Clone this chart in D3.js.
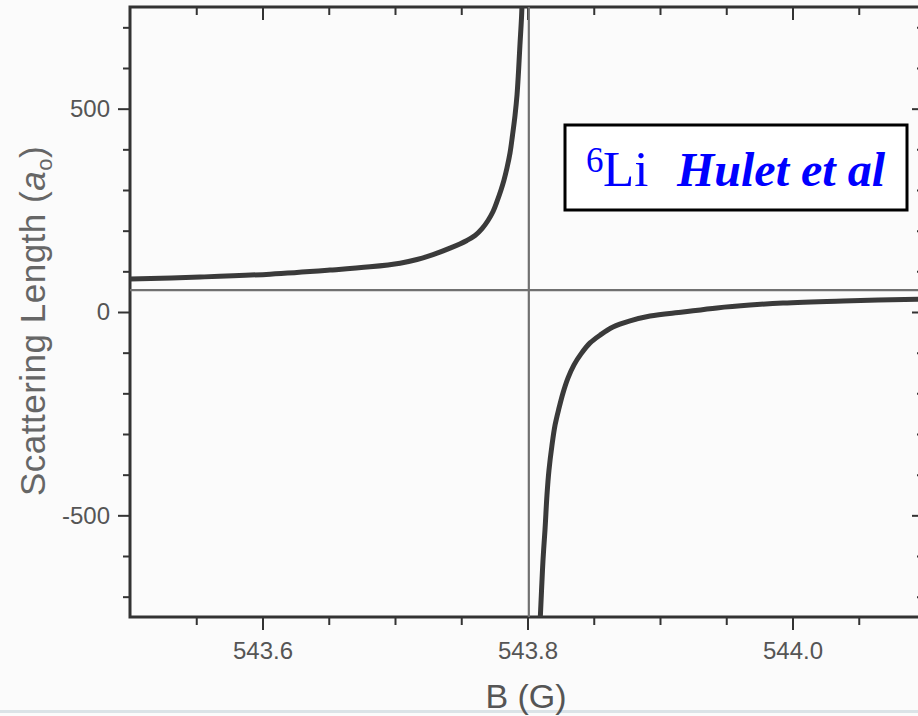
<!DOCTYPE html>
<html>
<head>
<meta charset="utf-8">
<script src="https://cdn.jsdelivr.net/npm/d3@7/dist/d3.min.js"></script>
<style>
  html, body { margin: 0; padding: 0; background: #fbfbfb; }
  svg { display: block; }
</style>
</head>
<body>
<svg id="chart" width="918" height="716"></svg>
<script>
// ---- data ----
const leftBranchB = [543.5000, 543.5528, 543.6057, 543.6509, 543.6811, 543.7038, 543.7166, 543.7287, 543.7415, 543.7543, 543.7604, 543.7657, 543.7702, 543.7740, 543.7770, 543.7800, 543.7823, 543.7845, 543.7868, 543.7887, 543.7906, 543.7921, 543.7932, 543.7943, 543.7955, 543.7962];
const leftBranchA = [81, 86, 93, 103, 111, 120, 129, 141, 157, 176, 188, 205, 225, 247, 272, 300, 325, 354, 391, 435, 484, 534, 590, 657, 725, 792];
const rightBranchB = [543.8094, 543.8106, 543.8117, 543.8132, 543.8147, 543.8162, 543.8185, 543.8208, 543.8238, 543.8268, 543.8306, 543.8351, 543.8404, 543.8472, 543.8547, 543.8645, 543.8774, 543.8925, 543.9174, 543.9430, 543.9679, 543.9928, 544.0381, 544.1000];
const rightBranchA = [-770, -684, -610, -536, -450, -389, -327, -278, -236, -199, -162, -130, -103, -76, -57, -37, -22, -10, 0, 10, 17, 22, 27, 32];
const backgroundA = 54;        // horizontal reference line
const resonanceB = 543.801;    // vertical reference line
const xDomain = [543.5, 544.1];
const yDomain = [-750, 750];
const xMajorTicks = [543.6, 543.8, 544.0];
const xMinorTicks = [543.55, 543.65, 543.7, 543.75, 543.85, 543.9, 543.95, 544.05];
const yMajorTicks = [-500, 0, 500];
const yMinorTicks = [-700, -600, -400, -300, -200, -100, 100, 200, 300, 400, 600, 700];
const xTitle = "B (G)";
const legendIsotope = "6";
const legendElement = "Li";
const legendAuthors = "Hulet et al";

(function () {
// ---- layout ----
const svg = d3.select("#chart");
const pL = 130, pR = 925, pT = 7, pB = 617;
const x = d3.scaleLinear().domain(xDomain).range([pL, pR]);
const y = d3.scaleLinear().domain(yDomain).range([pB, pT]);

svg.append("rect").attr("x", 0).attr("y", 0).attr("width", 918).attr("height", 716).attr("fill", "#fbfbfb");
svg.append("rect").attr("x", 0).attr("y", 710).attr("width", 918).attr("height", 3).attr("fill", "#dbe3e7");

svg.append("clipPath").attr("id", "plotclip")
  .append("rect").attr("x", pL).attr("y", pT).attr("width", pR - pL).attr("height", pB - pT);

const tickFont = "'Liberation Sans', Arial, sans-serif";
const axisColor = "#333";
const textColor = "#555";

function styleAxis(g) {
  g.selectAll(".domain").remove();
  g.selectAll("line").attr("stroke", axisColor).attr("stroke-width", 2);
  g.selectAll("text").attr("fill", textColor).style("font-family", tickFont).style("font-size", "24px");
}

// bottom axis
svg.append("g").attr("transform", `translate(0,${pB})`)
  .call(d3.axisBottom(x).tickValues(xMajorTicks).tickSize(13).tickPadding(12).tickFormat(d => d.toFixed(1)))
  .call(styleAxis);
svg.append("g").attr("transform", `translate(0,${pB})`)
  .call(d3.axisBottom(x).tickValues(xMinorTicks).tickSize(8).tickFormat(""))
  .call(styleAxis);
// top axis (inward ticks)
svg.append("g").attr("transform", `translate(0,${pT})`)
  .call(d3.axisTop(x).tickValues(xMajorTicks).tickSize(-13).tickFormat(""))
  .call(styleAxis);
svg.append("g").attr("transform", `translate(0,${pT})`)
  .call(d3.axisTop(x).tickValues(xMinorTicks).tickSize(-8).tickFormat(""))
  .call(styleAxis);
// left axis
svg.append("g").attr("transform", `translate(${pL},0)`)
  .call(d3.axisLeft(y).tickValues(yMajorTicks).tickSize(12).tickPadding(8).tickFormat(d => String(d)))
  .call(styleAxis);
svg.append("g").attr("transform", `translate(${pL},0)`)
  .call(d3.axisLeft(y).tickValues(yMinorTicks).tickSize(7).tickFormat(""))
  .call(styleAxis);
// right axis (inward ticks)
svg.append("g").attr("transform", `translate(${pR},0)`)
  .call(d3.axisRight(y).tickValues(yMajorTicks).tickSize(-13).tickFormat(""))
  .call(styleAxis);
svg.append("g").attr("transform", `translate(${pR},0)`)
  .call(d3.axisRight(y).tickValues(yMinorTicks).tickSize(-8).tickFormat(""))
  .call(styleAxis);

// frame
svg.append("rect").attr("x", pL).attr("y", pT).attr("width", pR - pL).attr("height", pB - pT)
  .attr("fill", "none").attr("stroke", axisColor).attr("stroke-width", 3);

// reference lines
const plot = svg.append("g").attr("clip-path", "url(#plotclip)");
plot.append("line").attr("x1", pL).attr("x2", pR).attr("y1", y(backgroundA)).attr("y2", y(backgroundA))
  .attr("stroke", "#707070").attr("stroke-width", 2.2);
plot.append("line").attr("x1", x(resonanceB)).attr("x2", x(resonanceB)).attr("y1", pT).attr("y2", pB)
  .attr("stroke", "#707070").attr("stroke-width", 2.2);

// curve
const line = d3.line().x(d => x(d[0])).y(d => y(d[1])).curve(d3.curveCatmullRom.alpha(0.5));
const leftData = leftBranchB.map((b, i) => [b, leftBranchA[i]]);
const rightData = rightBranchB.map((b, i) => [b, rightBranchA[i]]);
[leftData, rightData].forEach(d => {
  plot.append("path").datum(d).attr("d", line)
    .attr("fill", "none").attr("stroke", "#3a3a3a").attr("stroke-width", 5);
});

// axis titles
svg.append("text").attr("x", 526).attr("y", 708).attr("text-anchor", "middle")
  .style("font-family", tickFont).style("font-size", "34px").attr("fill", textColor).text(xTitle);

const yt = svg.append("text").attr("transform", "translate(45,321) rotate(-90)").attr("text-anchor", "middle")
  .style("font-family", tickFont).style("font-size", "35px").style("letter-spacing", "0.5px").attr("fill", "#666");
yt.append("tspan").text("Scattering Length (");
yt.append("tspan").style("font-style", "italic").text("a");
yt.append("tspan").style("font-size", "22px").attr("dy", 7).text("o");
yt.append("tspan").attr("dy", -7).text(")");

// legend box
svg.append("rect").attr("x", 565).attr("y", 125).attr("width", 342).attr("height", 85)
  .attr("fill", "#ffffff").attr("stroke", "#000").attr("stroke-width", 3);
const serif = "'Liberation Serif', 'Times New Roman', serif";
svg.append("text").attr("x", 586).attr("y", 172).style("font-family", serif).style("font-size", "35px")
  .attr("fill", "#0000ff").text(legendIsotope);
svg.append("text").attr("x", 603).attr("y", 186).style("font-family", serif).style("font-size", "51px")
  .attr("fill", "#0000ff").text(legendElement);
svg.append("text").attr("x", 677).attr("y", 186).style("font-family", serif).style("font-size", "48px")
  .style("font-weight", "bold").style("font-style", "italic").attr("fill", "#0000ff").text(legendAuthors);
})();
</script>
</body>
</html>
